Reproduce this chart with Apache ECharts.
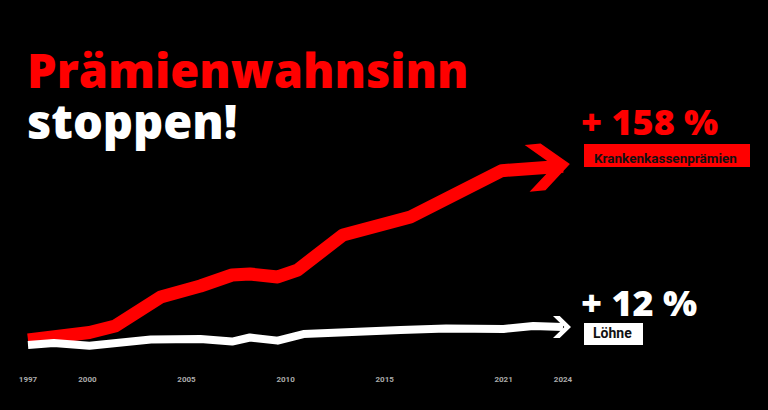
<!DOCTYPE html>
<html>
<head>
<meta charset="utf-8">
<script src="https://cdn.jsdelivr.net/npm/echarts@6/dist/echarts.min.js"></script>
<style>
  html, body { margin: 0; padding: 0; background: #000; }
  #c { width: 768px; height: 410px; }
</style>
</head>
<body>
<div id="c"></div>
<script>
// ---- data ----
const tickYears = [1997, 2000, 2005, 2010, 2015, 2021, 2024];

const premiumYears  = [1997, 2000.1, 2001.4, 2003.7, 2005.7, 2007.3, 2008.2, 2009.6, 2010.6, 2012.9, 2016.3, 2020.9, 2024];
const premiumValues = [0,    6.8,    12.7,   39.1,   49.1,   59.1,   60,     57.3,   63.6,   95.5,   111.8,  153.9,  158];

const wageYears  = [1997, 1998.3, 2000.1, 2003.2, 2005.7, 2007.3, 2008.2, 2009.6, 2010.9, 2015.8, 2018.1, 2021.0, 2022.5, 2024];
const wageValues = [0,    1.3,    -0.5,   3.7,    4,      2.3,    5,      2.9,    7.3,    10,     11,     10.7,   12.7,   12];

const titleLine1 = 'Prämienwahnsinn';
const titleLine2 = 'stoppen!';
const premiumName = 'Krankenkassenprämien';
const wageName = 'Löhne';

// ---- chart ----
const RED = '#ff0000';
const WHITE = '#ffffff';
const chevron = 'path://M0,0L16,0L43,23.5L16,47L0,47L27,23.5Z';
const pair = (xs, ys) => xs.map((x, i) => [x, ys[i]]);
const last = a => a[a.length - 1];

const premiumLabel = '+ ' + last(premiumValues) + ' %';
const wageLabel = '+ ' + last(wageValues) + ' %';

const chart = echarts.init(document.getElementById('c'), null, { renderer: 'svg' });

const titleFont = { fontFamily: 'Open Sans', fontSize: 47, fontWeight: 800, lineHeight: 51 };

const option = {
  backgroundColor: '#000',
  animation: false,
  grid: { left: 28, right: 205, top: 153, bottom: 59, containLabel: false, outerBoundsMode: 'none' },
  xAxis: {
    type: 'value', min: 1997, max: 2024, interval: 1,
    axisLine: { show: false }, axisTick: { show: false }, splitLine: { show: false },
    axisLabel: {
      margin: 24, color: '#ababab', fontFamily: 'Roboto', fontWeight: 'bold', fontSize: 8,
      formatter: v => (tickYears.indexOf(v) >= 0 ? String(v) : '')
    }
  },
  yAxis: [
    { type: 'value', min: -10, max: 170, show: false },
    { type: 'value', min: -4, max: 128, show: false }
  ],
  series: [
    {
      type: 'line', name: premiumName, yAxisIndex: 0, data: pair(premiumYears, premiumValues),
      symbol: 'none', clip: false, silent: true, z: 2,
      lineStyle: { color: RED, width: 13, cap: 'butt', join: 'round' }
    },
    {
      type: 'scatter', yAxisIndex: 0, data: [[last(premiumYears), last(premiumValues)]],
      symbol: chevron, symbolSize: [43, 47], symbolOffset: [-14.5, 0], symbolRotate: 6,
      itemStyle: { color: RED, opacity: 1 }, clip: false, silent: true, z: 3
    },
    {
      type: 'line', name: wageName, yAxisIndex: 1, data: pair(wageYears, wageValues),
      symbol: 'none', clip: false, silent: true, z: 4,
      lineStyle: { color: WHITE, width: 8, cap: 'butt', join: 'round' }
    },
    {
      type: 'scatter', yAxisIndex: 1, data: [[last(wageYears), last(wageValues)]],
      symbol: chevron, symbolSize: [18, 22], symbolOffset: [-1, 0],
      itemStyle: { color: WHITE, opacity: 1 }, clip: false, silent: true, z: 5
    }
  ],
  graphic: [
    { type: 'text', x: 27, y: 44.5, silent: true,
      style: {
        text: '{a|' + titleLine1 + '}\n{b|' + titleLine2 + '}',
        textAlign: 'left', textVerticalAlign: 'top', align: 'left', verticalAlign: 'top',
        rich: {
          a: Object.assign({ fill: RED }, titleFont),
          b: Object.assign({ fill: WHITE }, titleFont)
        }
      } },
    { type: 'text', x: 581, y: 121, silent: true,
      style: { text: premiumLabel, fill: RED, font: '800 36px "Open Sans"', textAlign: 'left', textVerticalAlign: 'middle', align: 'left', verticalAlign: 'middle' } },
    { type: 'rect', silent: true, shape: { x: 584, y: 144, width: 166, height: 23 }, style: { fill: RED } },
    { type: 'text', x: 594, y: 158, silent: true,
      style: { text: premiumName, fill: '#111', font: 'bold 13.5px Roboto', textAlign: 'left', textVerticalAlign: 'middle', align: 'left', verticalAlign: 'middle' } },
    { type: 'text', x: 581, y: 302, silent: true,
      style: { text: wageLabel, fill: WHITE, font: '800 36px "Open Sans"', textAlign: 'left', textVerticalAlign: 'middle', align: 'left', verticalAlign: 'middle' } },
    { type: 'rect', silent: true, shape: { x: 584, y: 323, width: 59, height: 22 }, style: { fill: WHITE } },
    { type: 'text', x: 593, y: 333, silent: true,
      style: { text: wageName, fill: '#111', font: 'bold 14px Roboto', textAlign: 'left', textVerticalAlign: 'middle', align: 'left', verticalAlign: 'middle' } }
  ]
};

chart.setOption(option);
</script>
</body>
</html>
